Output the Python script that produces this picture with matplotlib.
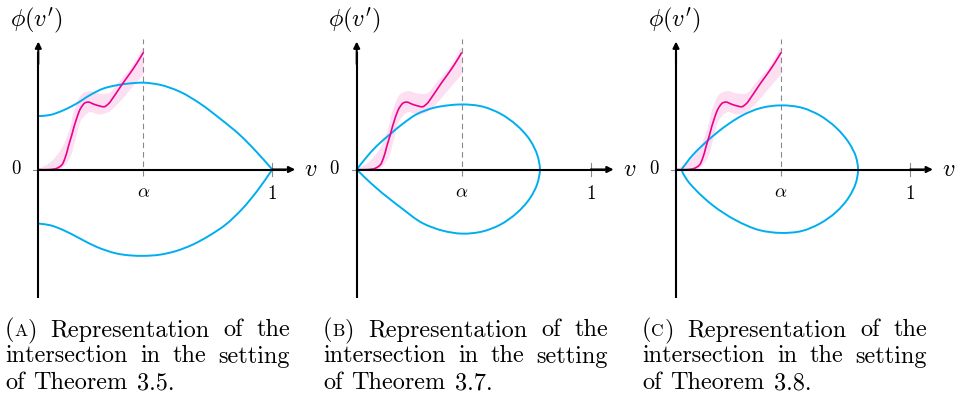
import matplotlib
matplotlib.use('Agg')
import math
import matplotlib.pyplot as plt
from matplotlib.path import Path
from matplotlib.patches import PathPatch

# ---------------- data ----------------
alpha = 0.449

pink_v = [0.0, 0.050, 0.079, 0.100, 0.114, 0.128, 0.143, 0.164, 0.185, 0.200, 0.214,
          0.235, 0.264, 0.281, 0.299, 0.321, 0.342, 0.363, 0.392, 0.421, 0.449]
pink_y = [0.0, 0.0, 0.005, 0.019, 0.048, 0.097, 0.147, 0.219, 0.268, 0.285, 0.288,
          0.280, 0.271, 0.268, 0.280, 0.309, 0.340, 0.371, 0.411, 0.454, 0.500]

band_v = [0.0, 0.05, 0.10, 0.13, 0.16, 0.19, 0.22, 0.26, 0.30, 0.34, 0.40, 0.449]
band_hi = [0.0, 0.03, 0.09, 0.16, 0.27, 0.325, 0.335, 0.325, 0.325, 0.37, 0.44, 0.525]
band_lo = [0.0, 0.0, 0.005, 0.04, 0.13, 0.22, 0.245, 0.235, 0.245, 0.28, 0.35, 0.405]

# Panel A: two blue branches
a_up_v = [0.0, 0.050, 0.107, 0.164, 0.221, 0.278, 0.335, 0.392, 0.449, 0.520, 0.606,
          0.691, 0.776, 0.862, 0.933, 1.0]
a_up_y = [0.228, 0.233, 0.253, 0.282, 0.318, 0.346, 0.360, 0.368, 0.371, 0.362, 0.332,
          0.282, 0.218, 0.147, 0.075, 0.0]
a_lo_v = [0.0, 0.050, 0.107, 0.178, 0.250, 0.335, 0.449, 0.520, 0.590, 0.660, 0.730,
          0.800, 0.870, 0.935, 1.0]
a_lo_y = [-0.231, -0.238, -0.259, -0.295, -0.331, -0.359, -0.369, -0.364, -0.348,
          -0.321, -0.283, -0.236, -0.170, -0.092, 0.0]

# Panel B: loop with a corner at the origin
b_v = [0.0, 0.043, 0.085, 0.142, 0.199, 0.256, 0.327, 0.399, 0.449, 0.541, 0.613, 0.684,
       0.741, 0.772, 0.783, 0.772, 0.741, 0.684, 0.613, 0.541, 0.449, 0.370, 0.285,
       0.185, 0.085, 0.043, 0.0]
b_y = [0.0, 0.054, 0.100, 0.150, 0.197, 0.236, 0.263, 0.275, 0.278, 0.268, 0.239, 0.189,
       0.125, 0.061, 0.0, -0.060, -0.122, -0.186, -0.236, -0.264, -0.274, -0.262, -0.231,
       -0.160, -0.080, -0.042, 0.0]

# Panel C: smooth closed loop
c_v = [0.026, 0.043, 0.071, 0.114, 0.171, 0.228, 0.285, 0.356, 0.449, 0.541, 0.613,
       0.684, 0.741, 0.769, 0.778, 0.769, 0.741, 0.684, 0.613, 0.541, 0.449, 0.356,
       0.256, 0.157, 0.085, 0.043]
c_y = [0.0, 0.026, 0.061, 0.104, 0.154, 0.197, 0.232, 0.261, 0.274, 0.263, 0.232,
       0.179, 0.111, 0.054, 0.0, -0.056, -0.115, -0.182, -0.232, -0.262, -0.271, -0.259,
       -0.217, -0.153, -0.088, -0.038]

theorems = ["3.5", "3.7", "3.8"]
letters = ["A", "B", "C"]

# ---------------- styling ----------------
plt.rcParams['mathtext.fontset'] = 'cm'
plt.rcParams['font.family'] = ['cmr10', 'DejaVu Serif']
plt.rcParams['axes.unicode_minus'] = False

W, H = 957, 401
S = 234.0
BLUE = '#00AEEF'
PINK = '#EC008C'
GREY = '#8a8a8a'


def smooth_path(xs, ys, closed=False):
    """Cubic Bezier path through the given points (chord-length Catmull-Rom)."""
    pts = list(zip(xs, ys))
    n = len(pts)

    def dist(a, b):
        return math.hypot(b[0] - a[0], b[1] - a[1]) or 1e-9

    def tangent(i):
        if closed:
            pm, p, pp = pts[(i - 1) % n], pts[i % n], pts[(i + 1) % n]
        else:
            if i == 0:
                d = dist(pts[0], pts[1])
                return ((pts[1][0] - pts[0][0]) / d, (pts[1][1] - pts[0][1]) / d)
            if i == n - 1:
                d = dist(pts[-2], pts[-1])
                return ((pts[-1][0] - pts[-2][0]) / d, (pts[-1][1] - pts[-2][1]) / d)
            pm, p, pp = pts[i - 1], pts[i], pts[i + 1]
        d1, d2 = dist(pm, p), dist(p, pp)
        tx = ((p[0] - pm[0]) / d1 * d2 + (pp[0] - p[0]) / d2 * d1) / (d1 + d2)
        ty = ((p[1] - pm[1]) / d1 * d2 + (pp[1] - p[1]) / d2 * d1) / (d1 + d2)
        return (tx, ty)

    verts = [pts[0]]
    codes = [Path.MOVETO]
    segs = n if closed else n - 1
    for i in range(segs):
        p1 = pts[i]
        p2 = pts[(i + 1) % n]
        h = dist(p1, p2) / 3.0
        m1 = tangent(i)
        m2 = tangent((i + 1) % n if closed else i + 1)
        c1 = (p1[0] + m1[0] * h, p1[1] + m1[1] * h)
        c2 = (p2[0] - m2[0] * h, p2[1] - m2[1] * h)
        verts += [c1, c2, p2]
        codes += [Path.CURVE4] * 3
    return verts, codes


def band_path():
    v1, c1 = smooth_path(band_v, band_hi)
    v2, c2 = smooth_path(band_v[::-1], band_lo[::-1])
    c2 = [Path.LINETO] + c2[1:]
    verts = v1 + v2 + [v1[0]]
    codes = c1 + c2 + [Path.CLOSEPOLY]
    return Path(verts, codes)


fig = plt.figure(figsize=(W / 100, H / 100), dpi=100)

origins = [(38.3, 169.5), (356.7, 169.5), (676.0, 169.5)]
XL = (-0.25, 1.25)
YL = (-0.62, 0.75)

blue_sets = [[(a_up_v, a_up_y, False), (a_lo_v, a_lo_y, False)],
             [(b_v, b_y, False)],
             [(c_v, c_y, True)]]

for i, (ox, oy) in enumerate(origins):
    left = (ox + XL[0] * S) / W
    width = (XL[1] - XL[0]) * S / W
    bottom = (H - oy + YL[0] * S) / H
    height = (YL[1] - YL[0]) * S / H
    ax = fig.add_axes([left, bottom, width, height])
    ax.set_xlim(*XL)
    ax.set_ylim(*YL)
    ax.axis('off')

    ax.plot([alpha, alpha], [-0.026, 0.558], color=GREY, lw=0.8,
            dashes=(5.0, 3.5), zorder=1)
    ax.plot([1, 1], [-0.026, 0.026], color=GREY, lw=0.8, zorder=1)
    ax.plot([-0.022, 0], [0, 0], color=GREY, lw=0.8, zorder=1)

    ax.add_patch(PathPatch(band_path(), facecolor=PINK, alpha=0.12, lw=0, zorder=2))
    for (vv, yy, cl) in blue_sets[i]:
        verts, codes = smooth_path(vv, yy, closed=cl)
        ax.add_patch(PathPatch(Path(verts, codes), facecolor='none', edgecolor=BLUE,
                               lw=1.4, zorder=3, joinstyle='round', capstyle='round'))
    verts, codes = smooth_path(pink_v, pink_y)
    ax.add_patch(PathPatch(Path(verts, codes), facecolor='none', edgecolor=PINK,
                           lw=1.2, zorder=4, joinstyle='round'))

    ax.plot([0, 0], [-0.55, 0.50], color='black', lw=1.5, zorder=5, solid_capstyle='butt')
    ax.plot([0, 1.06], [0, 0], color='black', lw=1.5, zorder=5, solid_capstyle='butt')
    ax.annotate('', xy=(0, 0.547), xytext=(0, 0.45),
                arrowprops=dict(arrowstyle='-|>', lw=1.5, color='black',
                                mutation_scale=9, shrinkA=0, shrinkB=0), zorder=6)
    ax.annotate('', xy=(1.098, 0), xytext=(1.0, 0),
                arrowprops=dict(arrowstyle='-|>', lw=1.5, color='black',
                                mutation_scale=9, shrinkA=0, shrinkB=0), zorder=6)

    ax.text(-22 / S, 0, r'$0$', fontsize=13.5, ha='center', va='center')
    ax.text(1.165, 0, r'$v$', fontsize=17.5, ha='center', va='center')
    ax.text(alpha, -14 / S, r'$\alpha$', fontsize=13.5, ha='center', va='top')
    ax.text(1.0, -15.5 / S, r'$1$', fontsize=13.5, ha='center', va='top')
    ax.text(-2 / S, (oy - 20) / S, r"$\phi(v')$", fontsize=17.5, ha='center',
            va='center')

# ---------------- captions ----------------
renderer = fig.canvas.get_renderer()
cap_x = [5, 323, 642]
baselines = [336.5, 362.5, 389]
LINE_W = 285.0  # justified line width in px
FS = 17.5


def measure(s, f):
    t = fig.text(0, 0, s, fontsize=f)
    w = t.get_window_extent(renderer).width
    t.remove()
    return w


SPACE = measure('a a', FS) - measure('aa', FS)


def place_line(x0, yb, words, justify):
    widths = [[measure(s, f) for s, f in w] for w in words]
    total = sum(sum(ws) for ws in widths)
    gap = (LINE_W - total) / (len(words) - 1) if justify else SPACE * 1.1
    cur = x0
    for w, ws in zip(words, widths):
        for (s, f), wd in zip(w, ws):
            fig.text(cur / W, yb, s, fontsize=f, ha='left', va='baseline')
            cur += wd
        cur += gap


for i in range(3):
    x = cap_x[i]
    w1 = [[("(", FS), (letters[i], FS * 0.72), (")", FS)],
          [("Representation", FS)], [("of", FS)], [("the", FS)]]
    w2 = [[(s, FS)] for s in "intersection in the setting".split()]
    w3 = [[(s, FS)] for s in ("of Theorem " + theorems[i] + ".").split()]
    place_line(x, 1 - baselines[0] / H, w1, True)
    place_line(x, 1 - baselines[1] / H, w2, True)
    place_line(x, 1 - baselines[2] / H, w3, False)

fig.savefig('out.png', dpi=100)
